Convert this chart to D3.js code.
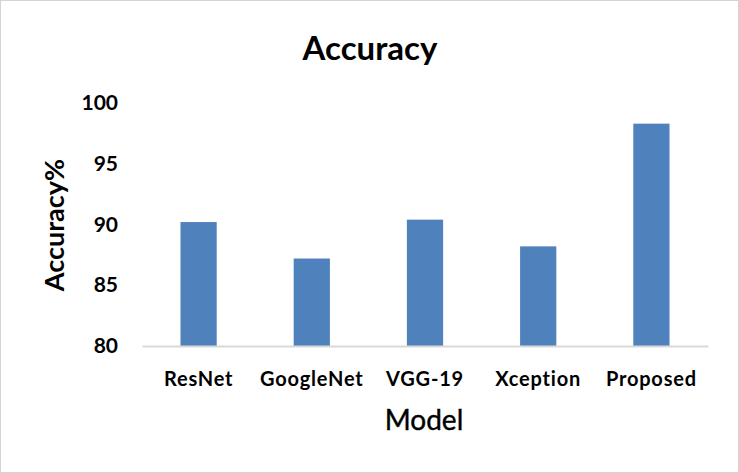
<!doctype html>
<html>
<head>
<meta charset="utf-8">
<title>Accuracy</title>
<script src="https://cdn.jsdelivr.net/npm/d3@7"></script>
<style>
  body { margin: 0; background: white; }
  svg { display: block; font-family: Lato, "Open Sans", sans-serif; }
</style>
</head>
<body>
<svg id="chart" width="739" height="473"></svg>
<script>
var models = ['ResNet', 'GoogleNet', 'VGG-19', 'Xception', 'Proposed'];
var accuracy = [90.2, 87.2, 90.4, 88.2, 98.3];
var yTicks = [80, 85, 90, 95, 100];

var width = 739, height = 473;
var svg = d3.select('#chart');

// faint frame round the picture
svg.append('rect')
    .attr('x', 0.5).attr('y', 0.5)
    .attr('width', width - 1).attr('height', height - 1)
    .attr('fill', 'white')
    .attr('stroke', '#d4d4d4');

var x = d3.scaleBand()
    .domain(models)
    .range([142, 708])
    .paddingInner(0.68)
    .paddingOuter(0.34);

var y = d3.scaleLinear()
    .domain([80, 100])
    .range([346, 103]);

// bars
svg.append('g')
  .selectAll('rect')
  .data(models)
  .enter().append('rect')
    .attr('x', function (d) { return x(d); })
    .attr('y', function (d, i) { return y(accuracy[i]); })
    .attr('width', x.bandwidth())
    .attr('height', function (d, i) { return y(80) - y(accuracy[i]); })
    .attr('fill', '#4f81bd');

// y axis: labels only
var yAxis = svg.append('g')
    .attr('transform', 'translate(120,0)')
    .call(d3.axisLeft(y).tickValues(yTicks).tickSize(0).tickPadding(2));
yAxis.select('.domain').remove();
yAxis.selectAll('text')
    .attr('font-family', 'Lato, sans-serif')
    .attr('font-size', 21)
    .attr('font-weight', 'bold')
    .attr('fill', '#000');

// x axis: light grey baseline + category labels
var xAxis = svg.append('g')
    .attr('transform', 'translate(0,' + y(80) + ')')
    .call(d3.axisBottom(x).tickSize(0).tickPadding(26));
xAxis.select('.domain')
    .attr('stroke', '#d9d9d9')
    .attr('stroke-width', 2);
xAxis.selectAll('text')
    .attr('font-family', 'Lato, sans-serif')
    .attr('font-size', 20)
    .attr('font-weight', 'bold')
    .attr('letter-spacing', 0.8)
    .attr('fill', '#000');

// titles
svg.append('text')
    .attr('x', 370).attr('y', 60)
    .attr('text-anchor', 'middle')
    .attr('font-size', 33)
    .attr('font-weight', 'bold')
    .text('Accuracy');

svg.append('text')
    .attr('transform', 'translate(64,225) rotate(-90)')
    .attr('text-anchor', 'middle')
    .attr('font-size', 27)
    .attr('font-weight', 'bold')
    .text('Accuracy%');

svg.append('text')
    .attr('x', 424).attr('y', 430)
    .attr('text-anchor', 'middle')
    .attr('font-size', 28)
    .attr('stroke', '#000')
    .attr('stroke-width', 0.4)
    .text('Model');
</script>
</body>
</html>
